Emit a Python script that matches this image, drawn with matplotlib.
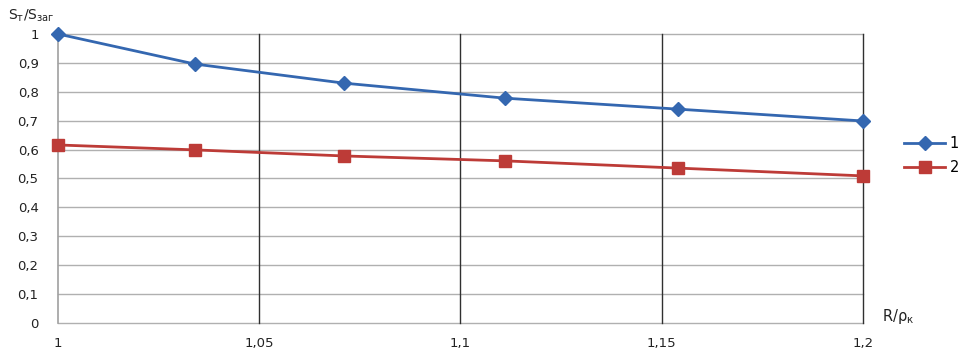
import numpy as np
import matplotlib
matplotlib.use("Agg")
import matplotlib.pyplot as plt

# values
r_ratio = [1.0, 1.034, 1.071, 1.111, 1.154, 1.2]
series_1 = [1.0, 0.896, 0.830, 0.778, 0.740, 0.699]
series_2 = [0.616, 0.599, 0.578, 0.561, 0.536, 0.509]

y_ticks = [0, 0.1, 0.2, 0.3, 0.4, 0.5, 0.6, 0.7, 0.8, 0.9, 1.0]
x_ticks = [1.0, 1.05, 1.1, 1.15, 1.2]

plt.rcParams['font.family'] = ['DejaVu Sans']
plt.rcParams['mathtext.fontset'] = 'dejavusans'

fig = plt.figure(figsize=(9.75, 3.54), dpi=100)
ax = fig.add_axes([0.0595, 0.0876, 0.8255, 0.8164])

# grid: gray horizontal, dark vertical
for yv in y_ticks:
    ax.axhline(yv, color='#b0b0b0', lw=1.0, zorder=0, clip_on=False)
for xv in x_ticks[1:]:
    ax.axvline(xv, color='#303030', lw=1.0, zorder=0, clip_on=False)
ax.axvline(1.0, color='#a0a0a0', lw=1.2, zorder=0, clip_on=False)

ax.plot(r_ratio, series_1, '-D', color='#3467b0', lw=2, ms=7,
        label='1', clip_on=False, zorder=3)
ax.plot(r_ratio, series_2, '-s', color='#bd3b37', lw=2, ms=9,
        label='2', clip_on=False, zorder=3)

ax.set_xlim(1.0, 1.2)
ax.set_ylim(0, 1.0)
ax.set_yticks(y_ticks)
ax.set_yticklabels([f"{v:g}".replace('.', ',') for v in y_ticks])
ax.set_xticks(x_ticks)
ax.set_xticklabels([f"{v:g}".replace('.', ',') for v in x_ticks])
ax.tick_params(axis='both', length=0, labelsize=9.5, colors='#222222')
ax.tick_params(axis='x', pad=10)
ax.tick_params(axis='y', pad=14)
for s in ax.spines.values():
    s.set_visible(False)

fig.text(0.008, 0.955, r'S$_{\mathrm{т}}$/S$_{\mathrm{заг}}$',
         fontsize=10, color='#222222', va='center')
fig.text(0.905, 0.105, r'R/ρ$_{\mathrm{к}}$',
         fontsize=10.5, color='#222222', va='center')

ax.legend(loc='center left', bbox_to_anchor=(1.035, 0.58), frameon=False,
          fontsize=10.5, handlelength=2.8, handletextpad=0.3,
          labelspacing=0.6)

fig.savefig('out.png', dpi=100)
